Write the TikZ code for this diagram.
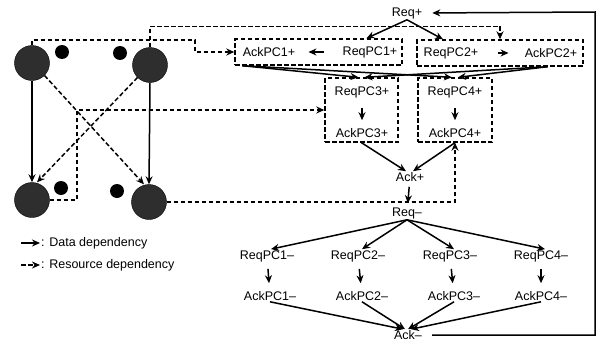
\documentclass[tikz,border=0pt]{standalone}
\usepackage{fontspec}
\setmainfont{Liberation Sans}
\usetikzlibrary{arrows.meta,calc}
\begin{document}
\begin{tikzpicture}[x=1pt,y=-1pt,
 lbl/.style={inner sep=1pt, font=\fontsize{12.5}{13}\selectfont},
 leg/.style={inner sep=1pt, anchor=west, font=\fontsize{12.5}{13}\selectfont},
 dep/.style={line width=1.5pt, -{Stealth[length=8pt,width=7pt]}},
 res/.style={dep, dash pattern=on 4.5pt off 2.5pt},
 grp/.style={draw, line width=1.4pt, dash pattern=on 4.5pt off 2.5pt, inner sep=0pt},
 big/.style={circle, draw=black, fill=black!82, minimum size=35pt, inner sep=0pt},
 small/.style={circle, fill=black, minimum size=14pt, inner sep=0pt}]
\useasboundingbox (0,0) rectangle (600,343);

% left: processors and dots
\node[big] (c1) at (32,63) {};
\node[big] (c2) at (150,65) {};
\node[big] (c3) at (32,200) {};
\node[big] (c4) at (149,202) {};
\node[small] (d1) at (62,52) {};
\node[small] (d2) at (120,53) {};
\node[small] (d3) at (61,188) {};
\node[small] (d4) at (117,191) {};

\draw[dep] (c1.south) -- (c3.north);
\draw[dep] (c2.south) -- (c4.north);
\draw[res] (c1.-45) -- ([xshift=-5pt]c4.north);
\draw[res] (c2.-135) -- ([xshift=5pt]c3.north);

% groups
\node[grp, minimum width=167pt, minimum height=26pt] (g1) at (318.5,52) {};
\node[grp, minimum width=166pt, minimum height=26pt] (g2) at (500,53) {};
\node[grp, minimum width=73pt, minimum height=64pt] (g3) at (361.5,110) {};
\node[grp, minimum width=74pt, minimum height=64pt] (g4) at (455,110) {};

% positive phase
\node[lbl] (reqp) at (407,13) {Req+};
\node[lbl] (apc1p) at (269,52) {AckPC1+};
\node[lbl] (rpc1p) at (370,52) {ReqPC1+};
\node[lbl] (rpc2p) at (451,53) {ReqPC2+};
\node[lbl] (apc2p) at (551,53) {AckPC2+};
\node[lbl] (rpc3p) at (362,92) {ReqPC3+};
\node[lbl] (apc3p) at (362,133) {AckPC3+};
\node[lbl] (rpc4p) at (455,92) {ReqPC4+};
\node[lbl] (apc4p) at (455,133) {AckPC4+};
\node[lbl] (ackp) at (410,177) {Ack+};
\node[lbl] (reqm) at (407,213) {Req--};

% negative phase
\node[lbl] (rpc1m) at (267,256) {ReqPC1--};
\node[lbl] (rpc2m) at (358,256) {ReqPC2--};
\node[lbl] (rpc3m) at (450,256) {ReqPC3--};
\node[lbl] (rpc4m) at (541,256) {ReqPC4--};
\node[lbl] (apc1m) at (270,296) {AckPC1--};
\node[lbl] (apc2m) at (362,296) {AckPC2--};
\node[lbl] (apc3m) at (454,296) {AckPC3--};
\node[lbl] (apc4m) at (541,296) {AckPC4--};
\node[lbl] (ackm) at (408,335) {Ack--};

% resource dependencies from processors
\draw[res] (c1.north) |- (195,40) |- (g1.west);
\draw[res] (c2.north) |- ($(g2.north)+(0,-13)$) -- (g2.north);
\draw[res] (c3.east) -- (77,200) |- (g3.west);
\draw[res] (c4.east) -| (g4.south);

% data dependencies
\draw[dep] (reqp.south) -- ([xshift=48pt]g1.north);
\draw[dep] (reqp.south) -- ([xshift=-57pt]g2.north);
\draw[dep, shorten <=18pt, shorten >=12pt] (rpc1p) -- (apc1p);
\draw[dep, shorten <=19pt, shorten >=15pt] (rpc2p) -- (apc2p);
\draw[dep, shorten <=9pt, shorten >=7pt] (rpc3p) -- (apc3p);
\draw[dep, shorten <=9pt, shorten >=7pt] (rpc4p) -- (apc4p);
\draw[dep] ([xshift=8pt]g1.south west) -- ([xshift=-3pt]g3.north);
\draw[dep] ([xshift=8pt]g1.south west) -- ([xshift=-3pt]g4.north);
\draw[dep] ([xshift=-36pt]g2.south east) -- ([xshift=3pt]g3.north);
\draw[dep] ([xshift=-36pt]g2.south east) -- ([xshift=3pt]g4.north);
\draw[dep] (g3.south) -- ([xshift=-4pt]ackp.north);
\draw[dep] (g4.south) -- ([xshift=3pt]ackp.north);
\draw[dep, shorten <=4pt, shorten >=3pt] (ackp) -- (reqm);
\foreach \n in {1,2,3,4}{
  \draw[dep] (reqm.south) -- ([xshift=4pt]rpc\n m.north);
  \draw[dep, shorten <=6pt, shorten >=7pt] (rpc\n m) -- (apc\n m);
}
\draw[dep] (apc1m.south) -- ([xshift=-5pt]ackm.north);
\draw[dep] (apc2m.south) -- ([xshift=-3pt]ackm.north);
\draw[dep] (apc3m.south) -- ([xshift=0pt]ackm.north);
\draw[dep] (apc4m.south) -- ([xshift=3pt]ackm.north);
\coordinate (rc) at (595,12);
\draw[dep, shorten <=9pt, shorten >=9pt] (ackm.east) -| (rc) -- (reqp.east);

% legend
\node[leg] (t1) at (40,243) {: Data dependency};
\node[leg] (t2) at (40,265) {: Resource dependency};
\coordinate (l1) at (21,243);
\coordinate (l2) at (21,265);
\draw[dep] (l1) -- (t1.west);
\draw[res] (l2) -- (t2.west);
\end{tikzpicture}
\end{document}
